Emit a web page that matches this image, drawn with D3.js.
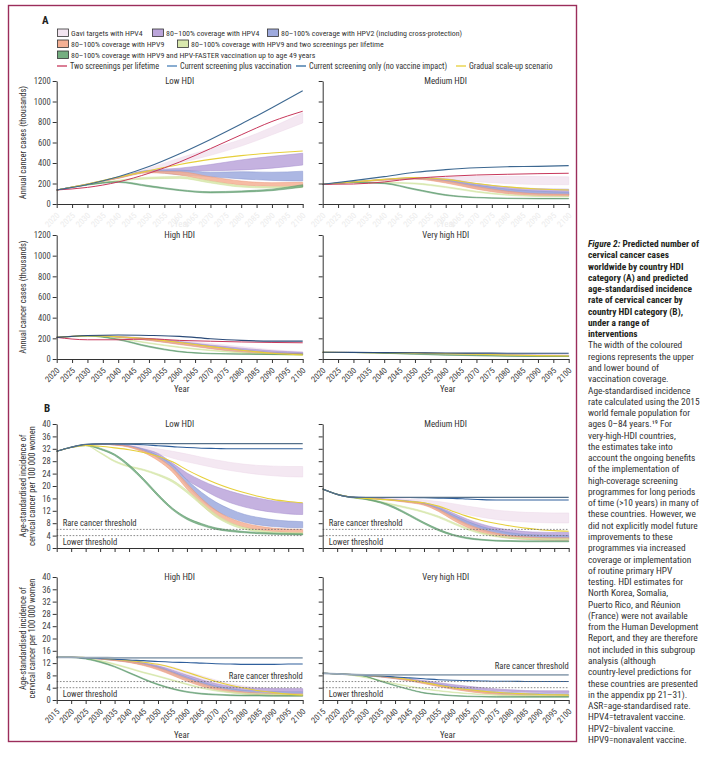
<!DOCTYPE html>
<html><head><meta charset="utf-8">
<script src="https://cdn.jsdelivr.net/npm/d3@7"></script>
<style>
body{margin:0;background:#fff}
text{font-family:'Liberation Sans Narrow','Roboto Condensed','DejaVu Sans Condensed',Lato,sans-serif;fill:#333}
</style></head>
<body><svg id="c" width="712" height="757"></svg>
<script>
// ---------- x categories ----------
const yearsA = [2020,2030,2040,2050,2060,2070,2080,2090,2100];
const yearsB = [2015,2020,2025,2030,2035,2040,2045,2050,2055,2060,2065,2070,2075,2080,2085,2090,2095,2100];
const ticksA = [2020,2025,2030,2035,2040,2045,2050,2055,2060,2065,2070,2075,2080,2085,2090,2095,2100];
const ticksB = [2015,2020,2025,2030,2035,2040,2045,2050,2055,2060,2065,2070,2075,2080,2085,2090,2095,2100];
const ticksYA = [0,200,400,600,800,1000,1200];
const ticksYB = [0,4,8,12,16,20,24,28,32,36,40];
const thresholds = [6,4];

// ---------- Panel A: annual cases (thousands) ----------
const aLowCurOnly   = [137,190,265,365,490,630,780,940,1105];
const aLowTwoScreen = [137,162,215,300,410,540,675,805,905];
const aLowGradual   = [137,195,262,325,385,435,472,497,517];
const aLowGavi    = [[137,185,255,325,400,475,565,675,790],[137,189,262,350,450,540,630,750,890]];
const aLowHpv4    = [[137,192,255,312,318,325,332,350,380],[137,195,262,328,350,385,430,465,495]];
const aLowHpv2    = [[137,192,252,312,285,265,245,230,224],[137,195,258,328,330,310,315,310,320]];
const aLowHpv9    = [[137,192,250,305,283,224,185,172,170],[137,195,255,320,315,266,224,208,211]];
const aLowHpv9Two = [[137,185,225,245,250,205,165,155,160],[137,188,232,262,268,225,180,168,172]];
const aLowFaster  = [[137,185,210,168,130,108,115,130,165],[137,189,220,180,140,120,128,145,188]];

const aMedCurOnly   = [192,228,267,309,335,354,364,367,374];
const aMedTwoScreen = [192,195,215,250,270,283,290,296,300];
const aMedGradual   = [192,215,240,258,240,200,168,147,137];
const aMedGavi    = [[192,214,240,252,240,218,200,190,188],[192,217,244,260,262,268,270,268,265]];
const aMedHpv4    = [[192,213,236,248,225,170,125,100,90],[192,216,241,256,245,200,165,150,145]];
const aMedHpv2    = [[192,213,234,245,215,155,110,90,85],[192,216,239,252,235,185,145,125,115]];
const aMedHpv9    = [[192,213,232,242,205,145,100,80,75],[192,216,237,250,225,170,125,100,95]];
const aMedHpv9Two = [[192,208,205,195,160,115,85,72,68],[192,211,212,205,170,125,93,78,74]];
const aMedFaster  = [[192,208,198,138,83,60,53,50,50],[192,212,205,148,92,66,58,55,54]];

const aHighCurOnly   = [209,228,232,228,219,196,180,173,173];
const aHighTwoScreen = [209,186,186,195,180,172,165,160,157];
const aHighGradual   = [209,225,215,195,160,120,85,55,40];
const aHighGavi    = [[209,222,212,190,160,125,95,70,55],[209,225,220,200,180,150,120,90,70]];
const aHighHpv4    = [[209,222,210,185,150,115,80,60,50],[209,225,218,198,170,135,105,80,65]];
const aHighHpv2    = [[209,222,210,183,145,105,70,52,45],[209,225,216,195,165,125,90,65,55]];
const aHighHpv9    = [[209,222,209,180,140,100,65,48,40],[209,225,215,192,160,120,85,60,50]];
const aHighHpv9Two = [[209,220,195,150,110,80,58,42,35],[209,223,200,158,118,88,64,47,40]];
const aHighFaster  = [[209,222,185,115,68,50,45,43,43],[209,226,192,125,75,55,50,48,48]];

const aVhCurOnly   = [65,64,62,60,58,57,56,55,55];
const aVhGradual   = [64,63,61,58,53,46,39,33,29];
const aVhGavi    = [[64,63,61,57,52,46,40,36,33],[64,63,62,59,56,52,48,45,42]];
const aVhHpv4    = [[64,63,60,56,50,43,36,31,28],[64,63,61,58,54,49,43,38,35]];
const aVhHpv2    = [[64,63,60,55,49,41,34,29,26],[64,63,61,57,52,46,40,35,32]];
const aVhHpv9    = [[64,63,59,54,47,39,32,27,24],[64,63,61,56,51,44,38,33,30]];
const aVhHpv9Two = [[64,62,58,52,45,38,32,28,26],[64,63,59,54,47,40,34,30,28]];
const aVhFaster  = [[64,62,55,45,37,31,27,25,24],[64,63,57,47,39,33,29,27,26]];

// ---------- Panel B: age-standardised incidence per 100 000 ----------
const bLowCurOnly    = [31.2,32.5,33.4,33.6,33.7,33.7,33.7,33.7,33.7,33.7,33.7,33.7,33.7,33.7,33.7,33.7,33.7,33.7];
const bLowCurPlusVac = [31.2,32.5,33.4,33.6,33.6,33.5,33.3,33.0,32.7,32.4,32.2,32.1,32.0,32.0,32.0,32.0,32.0,32.0];
const bLowGradual    = [31.2,32.4,33.1,32.8,32.3,31.7,30.8,29.6,27.8,25.2,22.9,20.9,19.2,17.8,16.6,15.6,15.0,14.6];
const bLowGavi    = [[31.2,32.5,33.3,33.5,33.4,33.0,32.0,30.5,29.0,27.8,26.8,25.8,25.0,24.3,23.7,23.3,23.0,22.9],[31.2,32.5,33.3,33.5,33.5,33.3,32.8,32.0,31.2,30.3,29.3,28.4,27.6,27.0,26.6,26.4,26.3,26.3]];
const bLowHpv4    = [[31.2,32.5,33.3,33.5,33.3,32.8,31.5,29.5,26.4,22.0,19.2,16.6,14.6,13.2,12.2,11.5,11.0,10.8],[31.2,32.5,33.3,33.5,33.4,33.0,32.0,30.5,27.4,24.2,21.8,19.8,18.3,17.0,16.0,15.2,14.8,14.5]];
const bLowHpv2    = [[31.2,32.5,33.3,33.5,33.3,32.7,31.2,29.0,25.5,20.0,15.5,12.0,9.8,8.3,7.4,6.9,6.6,6.5],[31.2,32.5,33.3,33.5,33.4,33.0,31.8,29.8,26.8,22.0,18.0,14.8,12.5,10.8,9.8,9.1,8.7,8.5]];
const bLowHpv9    = [[31.2,32.5,33.3,33.5,33.2,32.5,30.8,28.2,24.5,19.0,14.0,10.3,8.0,6.6,5.8,5.3,5.0,4.9],[31.2,32.5,33.3,33.5,33.3,32.8,31.4,29.2,25.8,20.8,16.0,12.2,9.6,8.0,7.0,6.4,6.1,6.0]];
const bLowHpv9Two = [[31.2,32.5,33.0,30.6,27.8,26.1,25.0,23.4,21.2,17.8,13.8,10.0,7.5,6.0,5.2,4.8,4.6,4.5],[31.2,32.5,33.1,30.9,28.2,26.5,25.4,23.9,21.9,18.6,14.7,10.9,8.2,6.6,5.7,5.2,5.0,4.9]];
const bLowFaster  = [[31.2,32.4,33.0,31.8,29.8,26.2,21.7,16.7,12.3,9.2,7.3,6.0,5.3,4.9,4.6,4.4,4.3,4.2],[31.2,32.6,33.3,32.2,30.3,26.9,22.4,17.4,12.9,9.8,7.9,6.5,5.8,5.3,5.0,4.8,4.7,4.6]];

const bMedCurOnly    = [19.0,17.3,16.4,16.3,16.3,16.3,16.3,16.3,16.3,16.3,16.3,16.3,16.3,16.3,16.3,16.3,16.3,16.3];
const bMedCurPlusVac = [19.0,17.3,16.4,16.3,16.3,16.3,16.3,16.2,16.1,16.0,15.8,15.6,15.5,15.5,15.5,15.5,15.5,15.5];
const bMedGradual    = [19.0,17.3,16.4,16.0,15.7,15.4,15.0,14.6,13.5,11.8,10.2,8.9,7.9,7.1,6.4,5.9,5.6,5.4];
const bMedGavi    = [[19.0,17.3,16.4,16.1,15.9,15.6,15.2,14.6,13.4,12.0,10.8,9.9,9.2,8.7,8.4,8.2,8.1,8.1],[19.0,17.3,16.4,16.2,16.1,16.0,15.8,15.5,15.0,14.3,13.5,12.8,12.2,11.8,11.5,11.4,11.3,11.3]];
const bMedHpv4    = [[19.0,17.3,16.4,16.0,15.8,15.4,14.9,14.2,12.6,10.2,8.0,6.3,5.2,4.4,3.9,3.6,3.4,3.3],[19.0,17.3,16.4,16.1,15.9,15.6,15.2,14.6,13.3,11.3,9.3,7.7,6.5,5.8,5.3,5.1,5.0,5.0]];
const bMedHpv2    = [[19.0,17.3,16.4,16.0,15.8,15.3,14.8,14.0,12.2,9.6,7.3,5.6,4.4,3.7,3.3,3.1,3.0,2.9],[19.0,17.3,16.4,16.1,15.9,15.5,15.1,14.4,12.9,10.7,8.6,6.9,5.7,4.9,4.4,4.2,4.1,4.0]];
const bMedHpv9    = [[19.0,17.3,16.4,16.0,15.7,15.2,14.6,13.8,11.8,9.0,6.6,4.9,3.8,3.1,2.8,2.6,2.5,2.5],[19.0,17.3,16.4,16.1,15.8,15.4,14.9,14.2,12.5,10.0,7.7,6.0,4.8,4.0,3.6,3.4,3.3,3.3]];
const bMedHpv9Two = [[19.0,17.3,16.3,15.6,14.6,13.6,12.6,11.4,9.8,7.8,5.9,4.5,3.6,3.1,2.9,2.8,2.7,2.7],[19.0,17.3,16.4,15.9,15.0,14.0,13.0,11.8,10.3,8.3,6.4,4.9,4.0,3.5,3.2,3.1,3.0,3.0]];
const bMedFaster  = [[19.0,17.2,16.2,15.6,14.5,12.7,10.3,7.8,5.6,4.0,3.0,2.5,2.2,2.1,2.0,2.0,2.0,2.0],[19.0,17.4,16.4,15.9,14.9,13.2,10.8,8.3,6.1,4.4,3.4,2.8,2.5,2.4,2.3,2.3,2.3,2.3]];

const bHighCurOnly    = [13.9,13.9,13.8,13.8,13.7,13.7,13.7,13.7,13.7,13.7,13.7,13.7,13.7,13.7,13.7,13.7,13.7,13.7];
const bHighCurPlusVac = [13.9,13.9,13.7,13.5,13.3,13.0,12.8,12.5,12.3,12.2,12.0,11.8,11.7,11.6,11.6,11.6,11.7,11.7];
const bHighGradual    = [14.0,14.0,13.8,13.5,13.2,12.8,12.3,11.6,10.5,9.0,7.5,6.0,4.8,3.8,3.0,2.4,1.9,1.6];
const bHighGavi    = [[13.9,13.9,13.6,13.3,13.0,12.6,12.0,11.0,9.5,7.8,6.3,5.0,4.0,3.4,3.0,2.7,2.5,2.4],[13.9,13.9,13.7,13.5,13.2,12.8,12.4,11.7,10.7,9.3,7.9,6.5,5.3,4.5,4.0,3.7,3.5,3.4]];
const bHighHpv4    = [[13.9,13.9,13.6,13.3,12.9,12.4,11.6,10.4,8.7,7.0,5.5,4.3,3.5,3.0,2.8,2.7,2.6,2.6],[13.9,13.9,13.7,13.4,13.1,12.7,12.1,11.1,9.7,8.1,6.6,5.3,4.5,4.0,3.8,3.7,3.7,3.7]];
const bHighHpv2    = [[13.9,13.9,13.6,13.3,12.9,12.3,11.4,10.1,8.3,6.5,4.9,3.7,2.9,2.4,2.1,2.0,1.9,1.9],[13.9,13.9,13.7,13.4,13.1,12.6,11.9,10.8,9.2,7.5,5.9,4.6,3.7,3.1,2.8,2.7,2.6,2.6]];
const bHighHpv9    = [[13.9,13.9,13.6,13.3,12.8,12.2,11.2,9.8,8.0,6.1,4.5,3.3,2.5,2.0,1.7,1.5,1.4,1.4],[13.9,13.9,13.7,13.4,13.0,12.5,11.7,10.5,8.9,7.0,5.4,4.1,3.2,2.6,2.3,2.1,2.0,2.0]];
const bHighHpv9Two = [[13.9,13.9,13.5,12.6,11.5,10.2,8.8,7.6,6.3,5.0,3.8,2.9,2.3,1.9,1.7,1.6,1.5,1.5],[13.9,13.9,13.6,12.9,11.8,10.5,9.1,7.9,6.6,5.3,4.1,3.2,2.6,2.2,2.0,1.9,1.8,1.8]];
const bHighFaster  = [[13.9,13.8,13.3,12.2,10.7,8.7,6.7,4.9,3.5,2.5,1.9,1.6,1.4,1.3,1.3,1.2,1.2,1.2],[13.9,13.9,13.5,12.5,11.0,9.0,7.0,5.2,3.8,2.8,2.2,1.9,1.7,1.6,1.6,1.5,1.5,1.5]];

const bVhCurOnly    = [8.7,8.5,8.3,8.2,8.2,8.2,8.2,8.2,8.2,8.2,8.2,8.2,8.2,8.2,8.2,8.2,8.2,8.2];
const bVhCurPlusVac = [8.7,8.5,8.3,8.0,7.8,7.5,7.2,6.9,6.6,6.4,6.3,6.2,6.1,6.1,6.0,6.0,6.0,6.0];
const bVhGradual    = [8.7,8.5,8.3,8.0,7.8,7.3,6.6,5.7,4.8,4.0,3.4,2.9,2.5,2.2,2.0,1.8,1.7,1.6];
const bVhGavi    = [[8.7,8.5,8.2,7.9,7.6,7.2,6.6,5.9,5.1,4.4,3.7,3.2,2.8,2.5,2.3,2.2,2.1,2.1],[8.7,8.5,8.3,8.0,7.8,7.5,7.0,6.4,5.7,5.0,4.4,3.9,3.5,3.2,3.0,2.9,2.8,2.8]];
const bVhHpv4    = [[8.7,8.5,8.2,7.9,7.6,7.2,6.6,5.8,5.0,4.3,3.7,3.3,3.0,2.8,2.6,2.5,2.4,2.4],[8.7,8.5,8.3,8.0,7.7,7.4,6.9,6.3,5.6,5.0,4.5,4.0,3.6,3.3,3.1,3.0,3.0,3.0]];
const bVhHpv2    = [[8.7,8.5,8.2,7.9,7.5,7.0,6.3,5.5,4.6,3.8,3.1,2.6,2.2,1.9,1.7,1.6,1.5,1.5],[8.7,8.5,8.3,8.0,7.7,7.3,6.7,5.9,5.1,4.3,3.6,3.1,2.7,2.4,2.2,2.1,2.0,2.0]];
const bVhHpv9    = [[8.7,8.5,8.2,7.9,7.5,6.9,6.2,5.3,4.4,3.5,2.8,2.2,1.8,1.5,1.3,1.2,1.2,1.2],[8.7,8.5,8.3,8.0,7.7,7.2,6.6,5.8,4.9,4.0,3.3,2.7,2.2,1.9,1.7,1.6,1.6,1.6]];
const bVhHpv9Two = [[8.7,8.5,8.0,7.2,6.2,5.2,4.3,3.5,2.9,2.4,2.0,1.7,1.5,1.4,1.3,1.3,1.2,1.2],[8.7,8.5,8.1,7.4,6.4,5.4,4.5,3.7,3.1,2.6,2.2,1.9,1.7,1.6,1.5,1.5,1.4,1.4]];
const bVhFaster  = [[8.7,8.5,8.2,7.6,6.0,4.6,3.3,2.2,1.7,1.3,1.1,1.0,0.9,0.9,0.9,0.9,0.9,0.9],[8.7,8.5,8.3,7.7,6.2,4.8,3.5,2.4,1.9,1.5,1.3,1.2,1.1,1.1,1.1,1.1,1.1,1.1]];

// ---------- legend / text ----------
const bandNames = ["Gavi targets with HPV4","80–100% coverage with HPV4","80–100% coverage with HPV2 (including cross-protection)",
  "80–100% coverage with HPV9","80–100% coverage with HPV9 and two screenings per lifetime",
  "80–100% coverage with HPV9 and HPV-FASTER vaccination up to age 49 years"];
const lineNames = ["Two screenings per lifetime","Current screening plus vaccination","Current screening only (no vaccine impact)","Gradual scale-up scenario"];
const panelTitles = ["Low HDI","Medium HDI","High HDI","Very high HDI"];
const captionBold = ["Predicted number of","cervical cancer cases","worldwide by country HDI","category (A) and predicted",
  "age-standardised incidence","rate of cervical cancer by","country HDI category (B),","under a range of","interventions"];
const captionBody = ["The width of the coloured","regions represents the upper","and lower bound of","vaccination coverage.",
  "Age-standardised incidence","rate calculated using the 2015","world female population for","ages 0–84 years.¹⁹ For",
  "very-high-HDI countries,","the estimates take into","account the ongoing benefits","of the implementation of",
  "high-coverage screening","programmes for long periods","of time (>10 years) in many of","these countries. However, we",
  "did not explicitly model future","improvements to these","programmes via increased","coverage or implementation",
  "of routine primary HPV","testing. HDI estimates for","North Korea, Somalia,","Puerto Rico, and Réunion",
  "(France) were not available","from the Human Development","Report, and they are therefore","not included in this subgroup",
  "analysis (although","country-level predictions for","these countries are presented","in the appendix pp 21–31).",
  "ASR=age-standardised rate.","HPV4=tetravalent vaccine.","HPV2=bivalent vaccine.","HPV9=nonavalent vaccine."];

// ---------- styles ----------
const bandStyle = {
  gavi:{fill:"#f2e4f0",stroke:"#ecd8e9"}, hpv4:{fill:"#bba5da",stroke:"#a58ccd"},
  hpv2:{fill:"#9eaade",stroke:"#8694cf"}, hpv9:{fill:"#f4b094",stroke:"#ea9474"},
  hpv9two:{fill:"#d9e8ad",stroke:"#cfe29e"}, faster:{fill:"#74ae80",stroke:"#4f8e60"}
};
const bandKeys = ["gavi","hpv4","hpv2","hpv9","hpv9two","faster"];
const lineStyle = {
  twoScreen:{stroke:"#c8385c",w:1}, curPlusVac:{stroke:"#2f5f9c",w:1.1},
  curOnly:{stroke:"#3d6891",w:1.1}, gradual:{stroke:"#e6cf3a",w:1.1}
};
const lineKeys = ["gradual","twoScreen","curPlusVac","curOnly"];

const svg = d3.select("#c");
svg.append("rect").attr("width",712).attr("height",757).attr("fill","#fff");
svg.append("rect").attr("x",8.5).attr("y",5.5).attr("width",568).attr("height",736)
  .attr("fill","none").attr("stroke","#9b2d5b").attr("stroke-width",1.4);

const cols = [[56.7,302.7],[322.7,568.7]];
const rows = {a1:[204,81],a2:[359,235],b1:[548,424],b2:[700,577]};

const panels = [
 {row:"a1",col:0,t:0,yrs:yearsA,ticks:ticksA,yt:ticksYA,ym:1200,xl:"faint",d:{curOnly:aLowCurOnly,twoScreen:aLowTwoScreen,gradual:aLowGradual,gavi:aLowGavi,hpv4:aLowHpv4,hpv2:aLowHpv2,hpv9:aLowHpv9,hpv9two:aLowHpv9Two,faster:aLowFaster}},
 {row:"a1",col:1,t:1,yrs:yearsA,ticks:ticksA,yt:ticksYA,ym:1200,xl:"faint",d:{curOnly:aMedCurOnly,twoScreen:aMedTwoScreen,gradual:aMedGradual,gavi:aMedGavi,hpv4:aMedHpv4,hpv2:aMedHpv2,hpv9:aMedHpv9,hpv9two:aMedHpv9Two,faster:aMedFaster}},
 {row:"a2",col:0,t:2,yrs:yearsA,ticks:ticksA,yt:ticksYA,ym:1200,xl:"on",d:{curOnly:aHighCurOnly,twoScreen:aHighTwoScreen,gradual:aHighGradual,gavi:aHighGavi,hpv4:aHighHpv4,hpv2:aHighHpv2,hpv9:aHighHpv9,hpv9two:aHighHpv9Two,faster:aHighFaster}},
 {row:"a2",col:1,t:3,yrs:yearsA,ticks:ticksA,yt:ticksYA,ym:1200,xl:"on",d:{curOnly:aVhCurOnly,gradual:aVhGradual,gavi:aVhGavi,hpv4:aVhHpv4,hpv2:aVhHpv2,hpv9:aVhHpv9,hpv9two:aVhHpv9Two,faster:aVhFaster}},
 {row:"b1",col:0,t:0,yrs:yearsB,ticks:ticksB,yt:ticksYB,ym:40,xl:"off",th:"left",d:{curOnly:bLowCurOnly,curPlusVac:bLowCurPlusVac,gradual:bLowGradual,gavi:bLowGavi,hpv4:bLowHpv4,hpv2:bLowHpv2,hpv9:bLowHpv9,hpv9two:bLowHpv9Two,faster:bLowFaster}},
 {row:"b1",col:1,t:1,yrs:yearsB,ticks:ticksB,yt:ticksYB,ym:40,xl:"off",th:"left",d:{curOnly:bMedCurOnly,curPlusVac:bMedCurPlusVac,gradual:bMedGradual,gavi:bMedGavi,hpv4:bMedHpv4,hpv2:bMedHpv2,hpv9:bMedHpv9,hpv9two:bMedHpv9Two,faster:bMedFaster}},
 {row:"b2",col:0,t:2,yrs:yearsB,ticks:ticksB,yt:ticksYB,ym:40,xl:"on",th:"right",d:{curOnly:bHighCurOnly,curPlusVac:bHighCurPlusVac,gradual:bHighGradual,gavi:bHighGavi,hpv4:bHighHpv4,hpv2:bHighHpv2,hpv9:bHighHpv9,hpv9two:bHighHpv9Two,faster:bHighFaster}},
 {row:"b2",col:1,t:3,yrs:yearsB,ticks:ticksB,yt:ticksYB,ym:40,xl:"on",th:"right2",d:{curOnly:bVhCurOnly,curPlusVac:bVhCurPlusVac,gradual:bVhGradual,gavi:bVhGavi,hpv4:bVhHpv4,hpv2:bVhHpv2,hpv9:bVhHpv9,hpv9two:bVhHpv9Two,faster:bVhFaster}}
];

panels.forEach(p=>{
  const [xa,xb] = cols[p.col], [yb,ya] = rows[p.row];
  const x = d3.scaleLinear().domain([p.yrs[0],2100]).range([xa,xb]);
  const y = d3.scaleLinear().domain([0,p.ym]).range([yb,ya]);
  const g = svg.append("g");
  // bands
  bandKeys.forEach(k=>{
    const b = p.d[k]; if(!b) return;
    const pts = p.yrs.map((yr,i)=>({yr,lo:b[0][i],hi:b[1][i]}));
    g.append("path").datum(pts)
      .attr("d",d3.area().curve(d3.curveMonotoneX).x(d=>x(d.yr)).y0(d=>y(d.lo)).y1(d=>y(d.hi)))
      .attr("fill",bandStyle[k].fill).attr("fill-opacity",0.85)
      .attr("stroke",bandStyle[k].stroke).attr("stroke-width",0.5);
  });
  // lines
  lineKeys.forEach(k=>{
    const v = p.d[k]; if(!v) return;
    const st = lineStyle[k];
    let stroke = st.stroke, w = st.w;
    if(k==="curOnly" && p.row[0]==="b"){ stroke = p.t>=2 ? "#97a8b8" : "#55708a"; w = p.t>=2 ? 1.8 : 1.2; }
    if(k==="curOnly" && p.row[0]==="a" && p.t>=2){ stroke = "#2a4a78"; }
    g.append("path").datum(p.yrs.map((yr,i)=>[yr,v[i]]))
      .attr("d",d3.line().curve(d3.curveMonotoneX).x(d=>x(d[0])).y(d=>y(d[1])))
      .attr("fill","none").attr("stroke",stroke).attr("stroke-width",w);
  });
  // thresholds
  if(p.th){
    thresholds.forEach(v=>{
      g.append("line").attr("x1",xa).attr("x2",xb).attr("y1",y(v)).attr("y2",y(v))
        .attr("stroke","#6b6b6b").attr("stroke-width",0.8).attr("stroke-dasharray","1.6,1.6");
    });
    const fs = 8.6;
    if(p.th==="left"){
      g.append("text").attr("x",xa+6).attr("y",y(6)-3).attr("font-size",fs).text("Rare cancer threshold");
    } else if(p.th==="right"){
      g.append("text").attr("x",xb).attr("y",y(6)-3).attr("text-anchor","end").attr("font-size",fs).text("Rare cancer threshold");
    } else {
      g.append("text").attr("x",xb).attr("y",y(9)-3).attr("text-anchor","end").attr("font-size",fs).text("Rare cancer threshold");
    }
    g.append("text").attr("x",xa+6).attr("y",y(4)+9).attr("font-size",fs).text("Lower threshold");
  }
  // axes
  const ya_ = d3.axisLeft(y).tickValues(p.yt).tickSize(4).tickSizeOuter(0).tickPadding(2).tickFormat(d3.format("d"));
  if(p.col===1) ya_.tickFormat("");
  const gy = g.append("g").attr("transform",`translate(${xa},0)`).call(ya_);
  gy.selectAll("text").attr("font-size",8.6).style("fill","#444");
  const xa_ = d3.axisBottom(x).tickValues(p.ticks).tickSize(4).tickSizeOuter(0).tickFormat(p.xl==="off"?"":d3.format("d"));
  const gx = g.append("g").attr("transform",`translate(0,${yb})`).call(xa_);
  gx.selectAll("text").attr("font-size",8.4).attr("x",0).attr("y",0).attr("dy",0)
    .attr("text-anchor","end").attr("transform","translate(3,12) rotate(-45)")
    .style("fill", p.xl==="faint" ? "#ececec" : "#444");
  svg.selectAll(".domain").attr("stroke","#333");
  svg.selectAll(".tick line").attr("stroke","#333");
  // title
  g.append("text").attr("x",(xa+xb)/2).attr("y",ya+3).attr("text-anchor","middle").attr("font-size",8.8).text(panelTitles[p.t]);
  // Year label
  if(p.xl!=="off"){
    const yy = p.row==="a1" ? 227 : (p.row==="a2" ? 392 : 738);
    g.append("text").attr("x",(xa+xb)/2+2).attr("y",yy).attr("text-anchor","middle").attr("font-size",8.8)
      .style("fill",p.xl==="faint"?"#ececec":"#333").text("Year");
  }
  // y label
  if(p.col===0){
    const cy = (ya+yb)/2;
    if(p.row[0]==="a"){
      g.append("text").attr("transform",`translate(26,${cy}) rotate(-90)`).attr("text-anchor","middle").attr("font-size",8.6).text("Annual cancer cases (thousands)");
    } else {
      g.append("text").attr("transform",`translate(26,${cy}) rotate(-90)`).attr("text-anchor","middle").attr("font-size",8.6).text("Age-standardised incidence of");
      g.append("text").attr("transform",`translate(35,${cy}) rotate(-90)`).attr("text-anchor","middle").attr("font-size",8.6).text("cervical cancer per 100 000 women");
    }
  }
});

// section letters
svg.append("text").attr("x",42).attr("y",24).attr("font-size",11).attr("font-weight","bold").style("fill","#222").text("A");
svg.append("text").attr("x",44).attr("y",412).attr("font-size",11).attr("font-weight","bold").style("fill","#222").text("B");

// legend
const legRows = [[0,1,2],[3,4],[5]];
const legX = [[57,152,267],[57,177],[57]];
const legY = [33,44,55];
const legFs = 7.9;
legRows.forEach((r,ri)=>{
  r.forEach((bi,j)=>{
    const k = bandKeys[bi];
    svg.append("rect").attr("x",legX[ri][j]+0.5).attr("y",legY[ri]-4).attr("width",11).attr("height",7.5)
      .attr("fill",bandStyle[k].fill).attr("stroke","#333").attr("stroke-width",0.8);
    svg.append("text").attr("x",legX[ri][j]+14).attr("y",legY[ri]+3).attr("font-size",legFs).text(bandNames[bi]);
  });
});
const lineLegX = [57,167,296,456];
const lineLegCol = ["#c8385c","#4a80b8","#2e6aa0","#e6cf3a"];
lineNames.forEach((nm,i)=>{
  svg.append("line").attr("x1",lineLegX[i]).attr("x2",lineLegX[i]+10).attr("y1",66).attr("y2",66)
    .attr("stroke",lineLegCol[i]).attr("stroke-width",1.3);
  svg.append("text").attr("x",lineLegX[i]+13).attr("y",69).attr("font-size",8.2).text(nm);
});

// caption
const capX = 588, lh = 11.27;
const cy0 = 247;
captionBold.forEach((s,i)=>{
  const t = svg.append("text").attr("x",capX).attr("y",cy0+i*lh).attr("font-size",9.4).attr("font-weight","bold").style("fill","#231f20");
  if(i===0){ t.append("tspan").attr("font-style","italic").text("Figure 2: "); }
  t.append("tspan").text(s);
});
captionBody.forEach((s,i)=>{
  svg.append("text").attr("x",capX).attr("y",cy0+(i+captionBold.length)*lh).attr("font-size",9.4).style("fill","#333").text(s);
});
</script></body></html>
